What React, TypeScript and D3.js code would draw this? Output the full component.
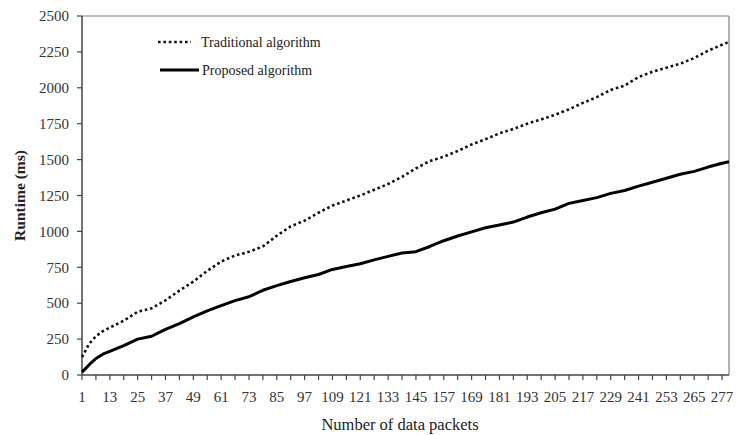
import React from "react";
import * as d3 from "d3";

const packets = [1, 4, 7, 10, 13, 19, 25, 31, 37, 43, 49, 55, 61, 67, 73, 79, 85, 91, 97, 103, 109, 115, 121, 127, 133, 139, 145, 151, 157, 163, 169, 175, 181, 187, 193, 199, 205, 211, 217, 223, 229, 235, 241, 247, 253, 259, 265, 271, 277, 280];
const traditional = [125, 215, 270, 305, 330, 378, 440, 464, 520, 588, 650, 725, 790, 832, 858, 895, 970, 1035, 1075, 1130, 1180, 1215, 1250, 1290, 1330, 1380, 1439, 1490, 1520, 1560, 1605, 1642, 1683, 1713, 1750, 1780, 1812, 1850, 1895, 1935, 1985, 2015, 2075, 2112, 2140, 2168, 2207, 2258, 2300, 2320];
const proposed = [20, 70, 115, 145, 165, 205, 250, 270, 318, 358, 405, 447, 483, 518, 545, 590, 622, 651, 677, 700, 735, 755, 775, 802, 826, 850, 859, 895, 935, 968, 997, 1025, 1045, 1065, 1100, 1130, 1155, 1195, 1215, 1235, 1265, 1285, 1315, 1342, 1370, 1398, 1418, 1448, 1475, 1485];
const yTicks = [0, 250, 500, 750, 1000, 1250, 1500, 1750, 2000, 2250, 2500];
const xLabels = d3.range(1, 278, 12);
const xTickMarks = d3.range(1, 281, 6);
const seriesNames = ["Traditional algorithm", "Proposed algorithm"];

const W = 736, H = 435;
const L = 82, R = 729, T = 16, B = 375;
const font = "'Liberation Serif', 'DejaVu Serif', serif";

export default function App() {
  const x = d3.scaleLinear().domain([1, 280]).range([L, R]);
  const y = d3.scaleLinear().domain([0, 2500]).range([B, T]);
  const line = d3.line<number>().x((_, i) => x(packets[i])).y((d) => y(d));

  return (
    <svg width={W} height={H} style={{ position: "absolute", left: 0, top: 0, background: "#fff" }} fontFamily={font}>
      <rect x={0} y={0} width={W} height={H} fill="#fff" />
      {/* frame */}
      <line x1={L} y1={T} x2={R} y2={T} stroke="#808080" strokeWidth={1.2} />
      <line x1={R} y1={T} x2={R} y2={B} stroke="#808080" strokeWidth={1.2} />
      {/* axes */}
      <line x1={L} y1={T} x2={L} y2={B} stroke="#444" strokeWidth={1.5} />
      <line x1={L} y1={B} x2={R} y2={B} stroke="#444" strokeWidth={1.5} />
      {yTicks.map((t) => (
        <g key={"y" + t}>
          <line x1={L - 5} x2={L} y1={y(t)} y2={y(t)} stroke="#444" strokeWidth={1.2} />
          <text x={L - 13} y={y(t)} dy="0.35em" textAnchor="end" fontSize={15} fill="#333">{t}</text>
        </g>
      ))}
      {xTickMarks.map((t) => (
        <line key={"xt" + t} x1={x(t)} x2={x(t)} y1={B} y2={B + 5} stroke="#444" strokeWidth={1.2} />
      ))}
      {xLabels.map((t) => (
        <text key={"xl" + t} x={x(t)} y={402} textAnchor="middle" fontSize={15} fill="#333">{t}</text>
      ))}
      <text x={400} y={430} textAnchor="middle" fontSize={16.5} fill="#222">Number of data packets</text>
      <text transform={`translate(25,${(T + B) / 2}) rotate(-90)`} textAnchor="middle" fontSize={15.5} fontWeight="bold" fill="#222">Runtime (ms)</text>
      {/* series */}
      <path d={line(traditional) || ""} fill="none" stroke="#111" strokeWidth={2.6} strokeDasharray="2.6 2.8" />
      <path d={line(proposed) || ""} fill="none" stroke="#000" strokeWidth={3} strokeLinejoin="round" />
      {/* legend */}
      <line x1={158} x2={191} y1={42} y2={42} stroke="#111" strokeWidth={2.6} strokeDasharray="2.6 2.8" />
      <text x={201} y={42} dy="0.35em" fontSize={14} fill="#222">{seriesNames[0]}</text>
      <line x1={160} x2={199} y1={70} y2={70} stroke="#000" strokeWidth={3} />
      <text x={202} y={70} dy="0.35em" fontSize={14} fill="#222">{seriesNames[1]}</text>
    </svg>
  );
}
